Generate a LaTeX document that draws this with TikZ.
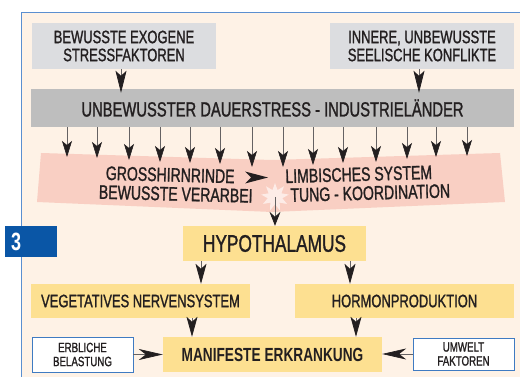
\documentclass[tikz,border=0pt]{standalone}
\usepackage{fontspec}
\setmainfont{Liberation Sans}[FakeStretch=0.72, UprightFeatures={FakeBold=1.2}]
\usetikzlibrary{arrows.meta,shapes.geometric}
\definecolor{cream}{HTML}{FEF2E6}
\definecolor{frameblue}{HTML}{5A8FD0}
\definecolor{lgray}{HTML}{DCDDE0}
\definecolor{dgray}{HTML}{BEBEBE}
\definecolor{pinkband}{HTML}{F9CFC3}
\definecolor{yell}{HTML}{FDE091}
\definecolor{ink}{HTML}{231F20}
\definecolor{badgeblue}{HTML}{0A56A6}
\definecolor{wborder}{HTML}{3F7BC2}
\begin{document}
\begin{tikzpicture}[x=1pt,y=-1pt,
  box/.style={inner sep=0pt, align=center, text=ink},
  mainfont/.style={font=\fontsize{18}{18}\selectfont},
  smallfont/.style={font=\fontsize{13.5}{14}\selectfont},
  bandfont/.style={font=\fontsize{19.5}{19}\selectfont},
  arr/.style={draw=ink!70, line width=0.7pt, -{Stealth[length=#1,width=11pt,inset=5pt,color=ink]}},
  arr/.default=20pt,
  harr/.style={draw=ink!70, line width=0.7pt, -{Stealth[length=24pt,width=11pt,inset=7pt,color=ink]}},
  darr/.style={draw=ink!70, line width=0.6pt, -{Stealth[length=16pt,width=10pt,inset=4pt,color=ink]}},
]
\useasboundingbox (0,0) rectangle (520,377);
\fill[white] (0,0) rectangle (520,377);
\fill[cream] (21,12) rectangle (520,377);
\draw[frameblue, line width=0.8pt] (21,377) -- (21,12) -- (520,12);

% top boxes
\node[box, mainfont, fill=lgray, minimum width=184pt, minimum height=46pt] (b1) at (124,46) {BEWUSSTE EXOGENE\\STRESSFAKTOREN};
\node[box, mainfont, fill=lgray, minimum width=184pt, minimum height=46pt] (b2) at (422,46) {INNERE, UNBEWUSSTE\\SEELISCHE KONFLIKTE};

% band
\node[box, font=\fontsize{20.5}{20.5}\selectfont, fill=dgray, minimum width=483pt, minimum height=38pt] (band) at (272.5,108) {UNBEWUSSTER DAUERSTRESS - INDUSTRIELÄNDER};

\draw[arr=22pt] (b1.south -| 121,0) -- ([yshift=-4pt]band.north -| 121,0);
\draw[arr=22pt] (b2.south -| 419,0) -- ([yshift=-4pt]band.north -| 419,0);

% pink band
\fill[pinkband] (41,153) -- (272,160) -- (500,153) -- (505,202) -- (272,212) -- (37,202) -- cycle;
\node[star, star points=9, star point ratio=1.9, minimum size=28pt, inner sep=0pt, fill=white!60!pinkband] (burst) at (275,197) {};

\foreach \x/\y in {67/157,97/158,129/160,160/162,190/163,220/164,252/167,283/167,313/165,343/163,376/162,407/159,436/157,467/156}{
  \coordinate (t\x) at (\x,\y);
  \draw[darr] (band.south -| t\x) -- (t\x);
}

\node[box, bandfont, rotate=-1.5] (leftpart) at (176,184.5) {GROSSHIRNRINDE\hspace*{12pt}\\BEWUSSTE VERARBEI};
\node[box, bandfont, rotate=1.6] (rightpart) at (370,183.5) {LIMBISCHES SYSTEM\hspace*{22pt}\\TUNG - KOORDINATION};
\fill[ink] (268,177.5) -- (245,171.5) -- (251,177.5) -- (245,183.5) -- cycle;

% hypothalamus
\node[box, font=\fontsize{24}{24}\selectfont, fill=yell, minimum width=183pt, minimum height=35pt] (hypo) at (274.5,243.5) {HYPOTHALAMUS};
\draw[arr=14pt] (burst.center) -- (hypo.north -| burst.center);

% second level
\node[box, mainfont, fill=yell, minimum width=219pt, minimum height=34pt] (veg) at (140.5,301) {VEGETATIVES NERVENSYSTEM};
\node[box, mainfont, fill=yell, minimum width=219pt, minimum height=34pt] (horm) at (404.5,301) {HORMONPRODUKTION};
\draw[arr] (hypo.south -| 201,0) -- (veg.north -| 201,0);
\draw[arr] (hypo.south -| 350,0) -- (horm.north -| 350,0);

% bottom
\node[box, font=\bfseries\fontsize{19}{19}\selectfont, fill=yell, minimum width=219pt, minimum height=35pt] (manif) at (272.5,354.5) {MANIFESTE ERKRANKUNG};
\node[box, smallfont, fill=white, draw=wborder, line width=0.8pt, minimum width=101pt, minimum height=35pt] (erb) at (82.5,354.5) {ERBLICHE\\BELASTUNG};
\node[box, smallfont, fill=white, draw=wborder, line width=0.8pt, minimum width=101pt, minimum height=32pt] (umw) at (463.5,354) {UMWELT\\FAKTOREN};
\draw[arr] (veg.south -| 192,0) -- (manif.north -| 192,0);
\draw[arr] (horm.south -| 356,0) -- (manif.north -| 356,0);
\draw[harr] (erb.east) -- (manif.west |- erb.east);
\draw[harr] (umw.west) -- (manif.east |- umw.west);

% badge
\node[fill=badgeblue, minimum width=52pt, minimum height=31pt, inner sep=0pt, text=white, text width=40pt, align=left, font=\bfseries\fontsize{25}{25}\selectfont] (badge) at (31,241.5) {3};
\end{tikzpicture}
\end{document}
